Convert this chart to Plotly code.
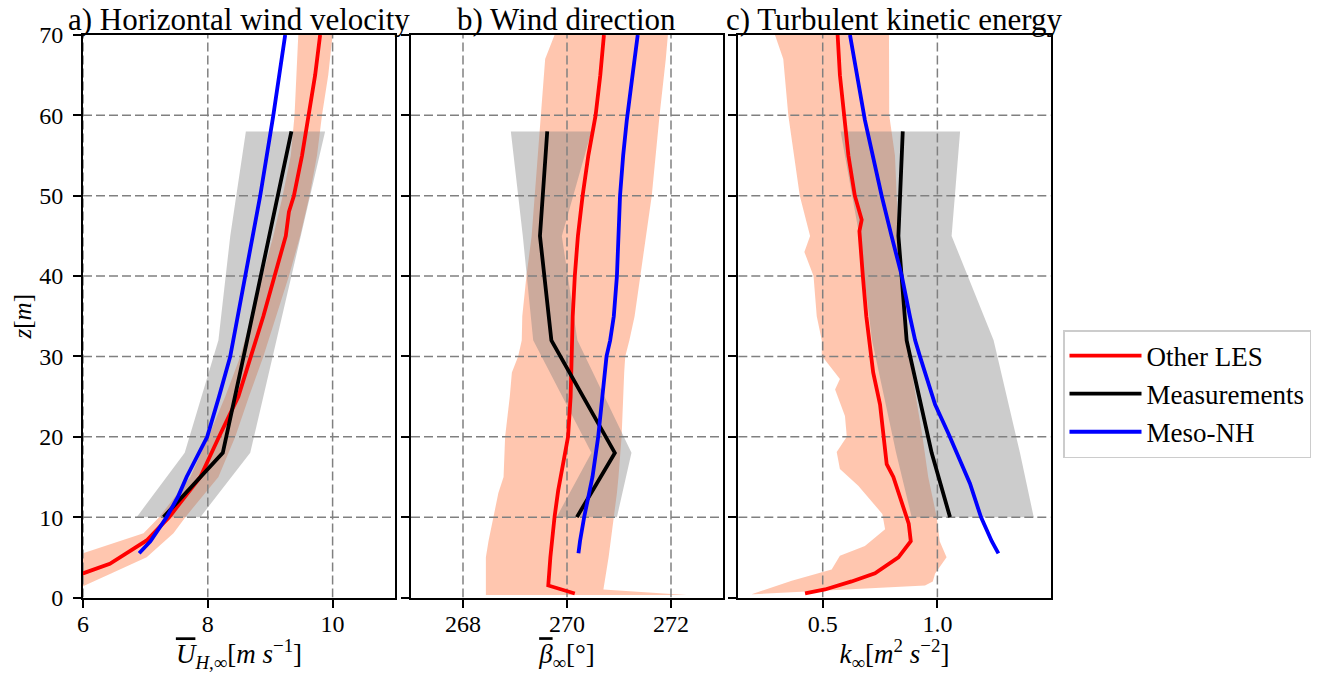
import plotly.graph_objects as go

# ---------------- axis settings ----------------
z_range = [0, 70]
z_ticks = [0, 10, 20, 30, 40, 50, 60, 70]
xa_range = [6, 11]
xa_ticks = [6, 8, 10]
xb_range = [267, 273]
xb_ticks = [268, 270, 272]
xc_range = [0.132, 1.494]
xc_ticks = [0.5, 1.0]
xc_ticktext = ["0.5", "1.0"]

titles = ["a) Horizontal wind velocity", "b) Wind direction", "c) Turbulent kinetic energy"]
OVL = '<span style="text-decoration:overline">'
xlabels = [OVL + "<i>U</i></span><sub><i>H</i>,∞</sub>[<i>m</i> <i>s</i><sup>−1</sup>]",
           OVL + "<i>β</i></span><sub>∞</sub>[°]",
           "<i>k</i><sub>∞</sub>[<i>m</i><sup>2</sup> <i>s</i><sup>−2</sup>]"]
ylabel = "<i>z</i>[<i>m</i>]"
names = ["Other LES", "Measurements", "Meso-NH"]

# ---------------- measurements (common heights) ----------------
z_meas = [10, 18, 32, 45, 58]

# ---------------- panel a: horizontal wind velocity ----------------
z_les_a = [0.5, 3, 4.2, 7.1, 10, 15, 20, 25, 30, 35, 40, 45, 48, 50, 55, 60, 65, 70]
u_les = [5.2, 6.0, 6.43, 7.02, 7.38, 7.88, 8.18, 8.49, 8.69, 8.89, 9.07, 9.25, 9.30, 9.38, 9.51, 9.62, 9.72, 9.80]
z_band_a = [0.5, 1.4, 3, 5, 5.5, 8, 10, 15, 20, 25, 30, 35, 40, 45, 50, 55, 60, 65, 70]
u_les_lo = [4.3, 4.65, 5.2, 5.85, 6.0, 6.97, 7.22, 7.72, 8.01, 8.28, 8.52, 8.70, 8.87, 9.05, 9.20, 9.33, 9.39, 9.42, 9.45]
u_les_hi = [5.85, 6.0, 6.45, 7.02, 7.10, 7.45, 7.64, 8.17, 8.44, 8.66, 8.89, 9.10, 9.30, 9.48, 9.63, 9.75, 9.83, 9.93, 10.0]
u_meas = [7.29, 8.24, 8.63, 8.98, 9.34]
u_meas_lo = [6.86, 7.63, 8.17, 8.36, 8.61]
u_meas_hi = [7.88, 8.68, 9.10, 9.49, 9.88]
z_meso_a = [5.5, 7, 10, 12.5, 15, 20, 25, 30, 35, 40, 50, 60, 70]
u_meso = [6.90, 7.08, 7.34, 7.52, 7.66, 7.99, 8.18, 8.36, 8.48, 8.60, 8.84, 9.05, 9.24]

# ---------------- panel b: wind direction ----------------
z_les_b = [0.5, 1.5, 5, 7, 10, 13.3, 15, 20, 25, 30, 35, 40, 45, 50, 55, 60, 65, 70]
b_les = [270.15, 269.64, 269.68, 269.71, 269.76, 269.83, 269.88, 270.02, 270.07, 270.09, 270.11, 270.15,
         270.21, 270.30, 270.41, 270.55, 270.64, 270.71]
z_band_b = [0.3, 1.0, 5, 7, 10, 13, 15, 20, 25, 28, 30, 32, 35, 40, 45, 50, 60, 67, 70]
b_les_lo = [268.44, 268.44, 268.44, 268.49, 268.58, 268.68, 268.78, 268.81, 268.90, 268.94, 269.06, 269.13,
            269.14, 269.22, 269.32, 269.38, 269.50, 269.58, 269.76]
b_les_hi = [272.30, 270.70, 270.80, 270.84, 270.90, 270.96, 270.99, 271.05, 271.08, 271.10, 271.12, 271.20,
            271.30, 271.40, 271.52, 271.63, 271.78, 271.90, 271.94]
b_meas = [270.19, 270.92, 269.70, 269.48, 269.62]
b_meas_lo = [269.80, 270.47, 269.35, 269.15, 268.92]
b_meas_hi = [270.96, 271.24, 270.20, 269.90, 270.47]
z_meso_b = [5.5, 7, 10, 13.3, 15, 20, 25, 30, 32, 35, 40, 47, 50, 55, 59.4, 65, 70]
b_meso = [270.22, 270.25, 270.33, 270.44, 270.49, 270.60, 270.68, 270.76, 270.83, 270.90, 270.96, 270.99,
          271.02, 271.08, 271.15, 271.26, 271.36]

# ---------------- panel c: turbulent kinetic energy ----------------
z_les_c = [0.5, 1, 2, 3, 5, 7, 9.2, 10, 12, 15, 16.6, 20.4, 24, 28, 32, 35, 40, 45.6, 47, 50, 55, 59.4, 65, 70]
k_les = [0.423, 0.51, 0.626, 0.728, 0.83, 0.884, 0.875, 0.866, 0.845, 0.808, 0.779, 0.764, 0.75, 0.72,
         0.703, 0.69, 0.675, 0.66, 0.67, 0.64, 0.612, 0.597, 0.575, 0.565]
z_band_c_lo = [0.4, 2.1, 3.5, 5.2, 6.4, 8.5, 10.4, 11.9, 13.9, 16.0, 18.1, 20.0, 22.6, 25.9, 27.2, 30.1,
               32, 35, 40, 43, 45, 50, 60, 67, 70]
k_les_lo = [0.19, 0.365, 0.539, 0.575, 0.684, 0.772, 0.76, 0.714, 0.655, 0.575, 0.561, 0.605, 0.597, 0.554,
            0.575, 0.496, 0.496, 0.474, 0.46, 0.42, 0.445, 0.40, 0.35, 0.328, 0.292]
z_band_c_hi = [0.4, 1.5, 2, 3, 5, 7, 10, 15, 20, 32, 45, 55, 60, 70]
k_les_hi = [0.20, 0.946, 0.98, 0.99, 1.04, 1.01, 0.997, 0.96, 0.935, 0.866, 0.83, 0.815, 0.79, 0.789]
k_meas = [1.055, 0.975, 0.866, 0.83, 0.849]
k_meas_lo = [0.888, 0.82, 0.715, 0.66, 0.578]
k_meas_hi = [1.42, 1.36, 1.245, 1.062, 1.099]
z_meso_c = [5.5, 7, 10, 14.2, 20.4, 24, 30, 32, 35, 40, 45, 50, 59.4, 70]
k_meso = [1.266, 1.237, 1.19, 1.142, 1.048, 0.99, 0.924, 0.903, 0.88, 0.845, 0.80, 0.757, 0.684, 0.619]

# ---------------- styling ----------------
FONT = "Liberation Serif"
C_LES, C_MEAS, C_MESO = "#ff0000", "#000000", "#0000ff"
F_LES = "rgba(255,160,122,0.6)"
F_MEAS = "rgba(128,128,128,0.4)"
GRID = "rgb(128,128,128)"
LW = 3.8
TICK_SIZE = 24
LABEL_SIZE = 27

panels = [
    dict(z_les=z_les_a, les=u_les, zlo=z_band_a, lo=u_les_lo, zhi=z_band_a, hi=u_les_hi,
         meas=u_meas, mlo=u_meas_lo, mhi=u_meas_hi, z_meso=z_meso_a, meso=u_meso,
         xr=xa_range, xt=xa_ticks, xtt=[str(v) for v in xa_ticks]),
    dict(z_les=z_les_b, les=b_les, zlo=z_band_b, lo=b_les_lo, zhi=z_band_b, hi=b_les_hi,
         meas=b_meas, mlo=b_meas_lo, mhi=b_meas_hi, z_meso=z_meso_b, meso=b_meso,
         xr=xb_range, xt=xb_ticks, xtt=[str(v) for v in xb_ticks]),
    dict(z_les=z_les_c, les=k_les, zlo=z_band_c_lo, lo=k_les_lo, zhi=z_band_c_hi, hi=k_les_hi,
         meas=k_meas, mlo=k_meas_lo, mhi=k_meas_hi, z_meso=z_meso_c, meso=k_meso,
         xr=xc_range, xt=xc_ticks, xtt=xc_ticktext),
]

W, H = 1335, 673
x_domains = [[83 / W, 395 / W], [411 / W, 723 / W], [738.3 / W, 1050.7 / W]]
y_domain = [(H - 597.5) / H, (H - 35) / H]

fig = go.Figure()

for i, p in enumerate(panels):
    sfx = "" if i == 0 else str(i + 1)
    xa, ya = "x" + sfx, "y" + sfx
    # LES spread
    fig.add_trace(go.Scatter(x=p["lo"] + p["hi"][::-1], y=p["zlo"] + p["zhi"][::-1],
                             fill="toself", fillcolor=F_LES, mode="lines", line=dict(width=0),
                             hoverinfo="skip", showlegend=False, xaxis=xa, yaxis=ya))
    # measurement spread
    fig.add_trace(go.Scatter(x=p["mlo"] + p["mhi"][::-1], y=z_meas + z_meas[::-1],
                             fill="toself", fillcolor=F_MEAS, mode="lines", line=dict(width=0),
                             hoverinfo="skip", showlegend=False, xaxis=xa, yaxis=ya))
    # dashed grid (above the spreads, below the lines)
    gx, gy = [], []
    for t in p["xt"]:
        gx += [t, t, None]
        gy += [z_range[0], z_range[1], None]
    for t in z_ticks[1:-1]:
        gx += [p["xr"][0], p["xr"][1], None]
        gy += [t, t, None]
    fig.add_trace(go.Scatter(x=gx, y=gy, mode="lines",
                             line=dict(color=GRID, width=1.5, dash="9px,4px"),
                             hoverinfo="skip", showlegend=False, xaxis=xa, yaxis=ya))
    # lines
    fig.add_trace(go.Scatter(x=p["les"], y=p["z_les"], mode="lines", name=names[0],
                             line=dict(color=C_LES, width=LW), showlegend=(i == 0),
                             xaxis=xa, yaxis=ya))
    fig.add_trace(go.Scatter(x=p["meas"], y=z_meas, mode="lines", name=names[1],
                             line=dict(color=C_MEAS, width=LW), showlegend=(i == 0),
                             xaxis=xa, yaxis=ya))
    fig.add_trace(go.Scatter(x=p["meso"], y=p["z_meso"], mode="lines", name=names[2],
                             line=dict(color=C_MESO, width=LW), showlegend=(i == 0),
                             xaxis=xa, yaxis=ya))

    xkey = "xaxis" + sfx
    ykey = "yaxis" + sfx
    ydict = dict(domain=y_domain, range=z_range, tickvals=z_ticks, anchor=xa,
                 showgrid=False, zeroline=False, showline=True, mirror=True,
                 linecolor="black", linewidth=2, ticks="outside", ticklen=8, tickwidth=2,
                 tickcolor="black", showticklabels=(i == 0), ticklabelstandoff=5,
                 automargin=False,
                 tickfont=dict(family=FONT, size=TICK_SIZE, color="black"))
    if i == 0:
        ydict["title"] = dict(text=ylabel, standoff=0,
                              font=dict(family=FONT, size=25, color="black"))
    fig.update_layout({
        xkey: dict(domain=x_domains[i], range=p["xr"], tickvals=p["xt"], ticktext=p["xtt"],
                   anchor=ya, showgrid=False, zeroline=False, showline=True, mirror=True,
                   linecolor="black", linewidth=2, ticks="outside", ticklen=8, tickwidth=2,
                   tickcolor="black", ticklabelstandoff=-4, automargin=False,
                   tickfont=dict(family=FONT, size=TICK_SIZE, color="black"),
                   title=dict(text=xlabels[i], standoff=8,
                              font=dict(family=FONT, size=LABEL_SIZE, color="black"))),
        ykey: ydict,
    })
    fig.add_annotation(text=titles[i], xref="paper", yref="paper",
                       x=sum(x_domains[i]) / 2, y=y_domain[1], xanchor="center", yanchor="bottom",
                       yshift=-4, showarrow=False,
                       font=dict(family=FONT, size=31, color="black"))

fig.update_layout(
    width=W, height=H,
    margin=dict(l=0, r=0, t=0, b=0),
    paper_bgcolor="white", plot_bgcolor="white",
    showlegend=True,
    legend=dict(x=1063 / W, y=(H - 330) / H, xanchor="left", yanchor="top",
                bgcolor="white", bordercolor="rgb(204,204,204)", borderwidth=1.5,
                font=dict(family=FONT, size=27, color="black"), itemwidth=72,
                tracegroupgap=0),
    font=dict(family=FONT, color="black"),
)

fig.write_html("out.html")
